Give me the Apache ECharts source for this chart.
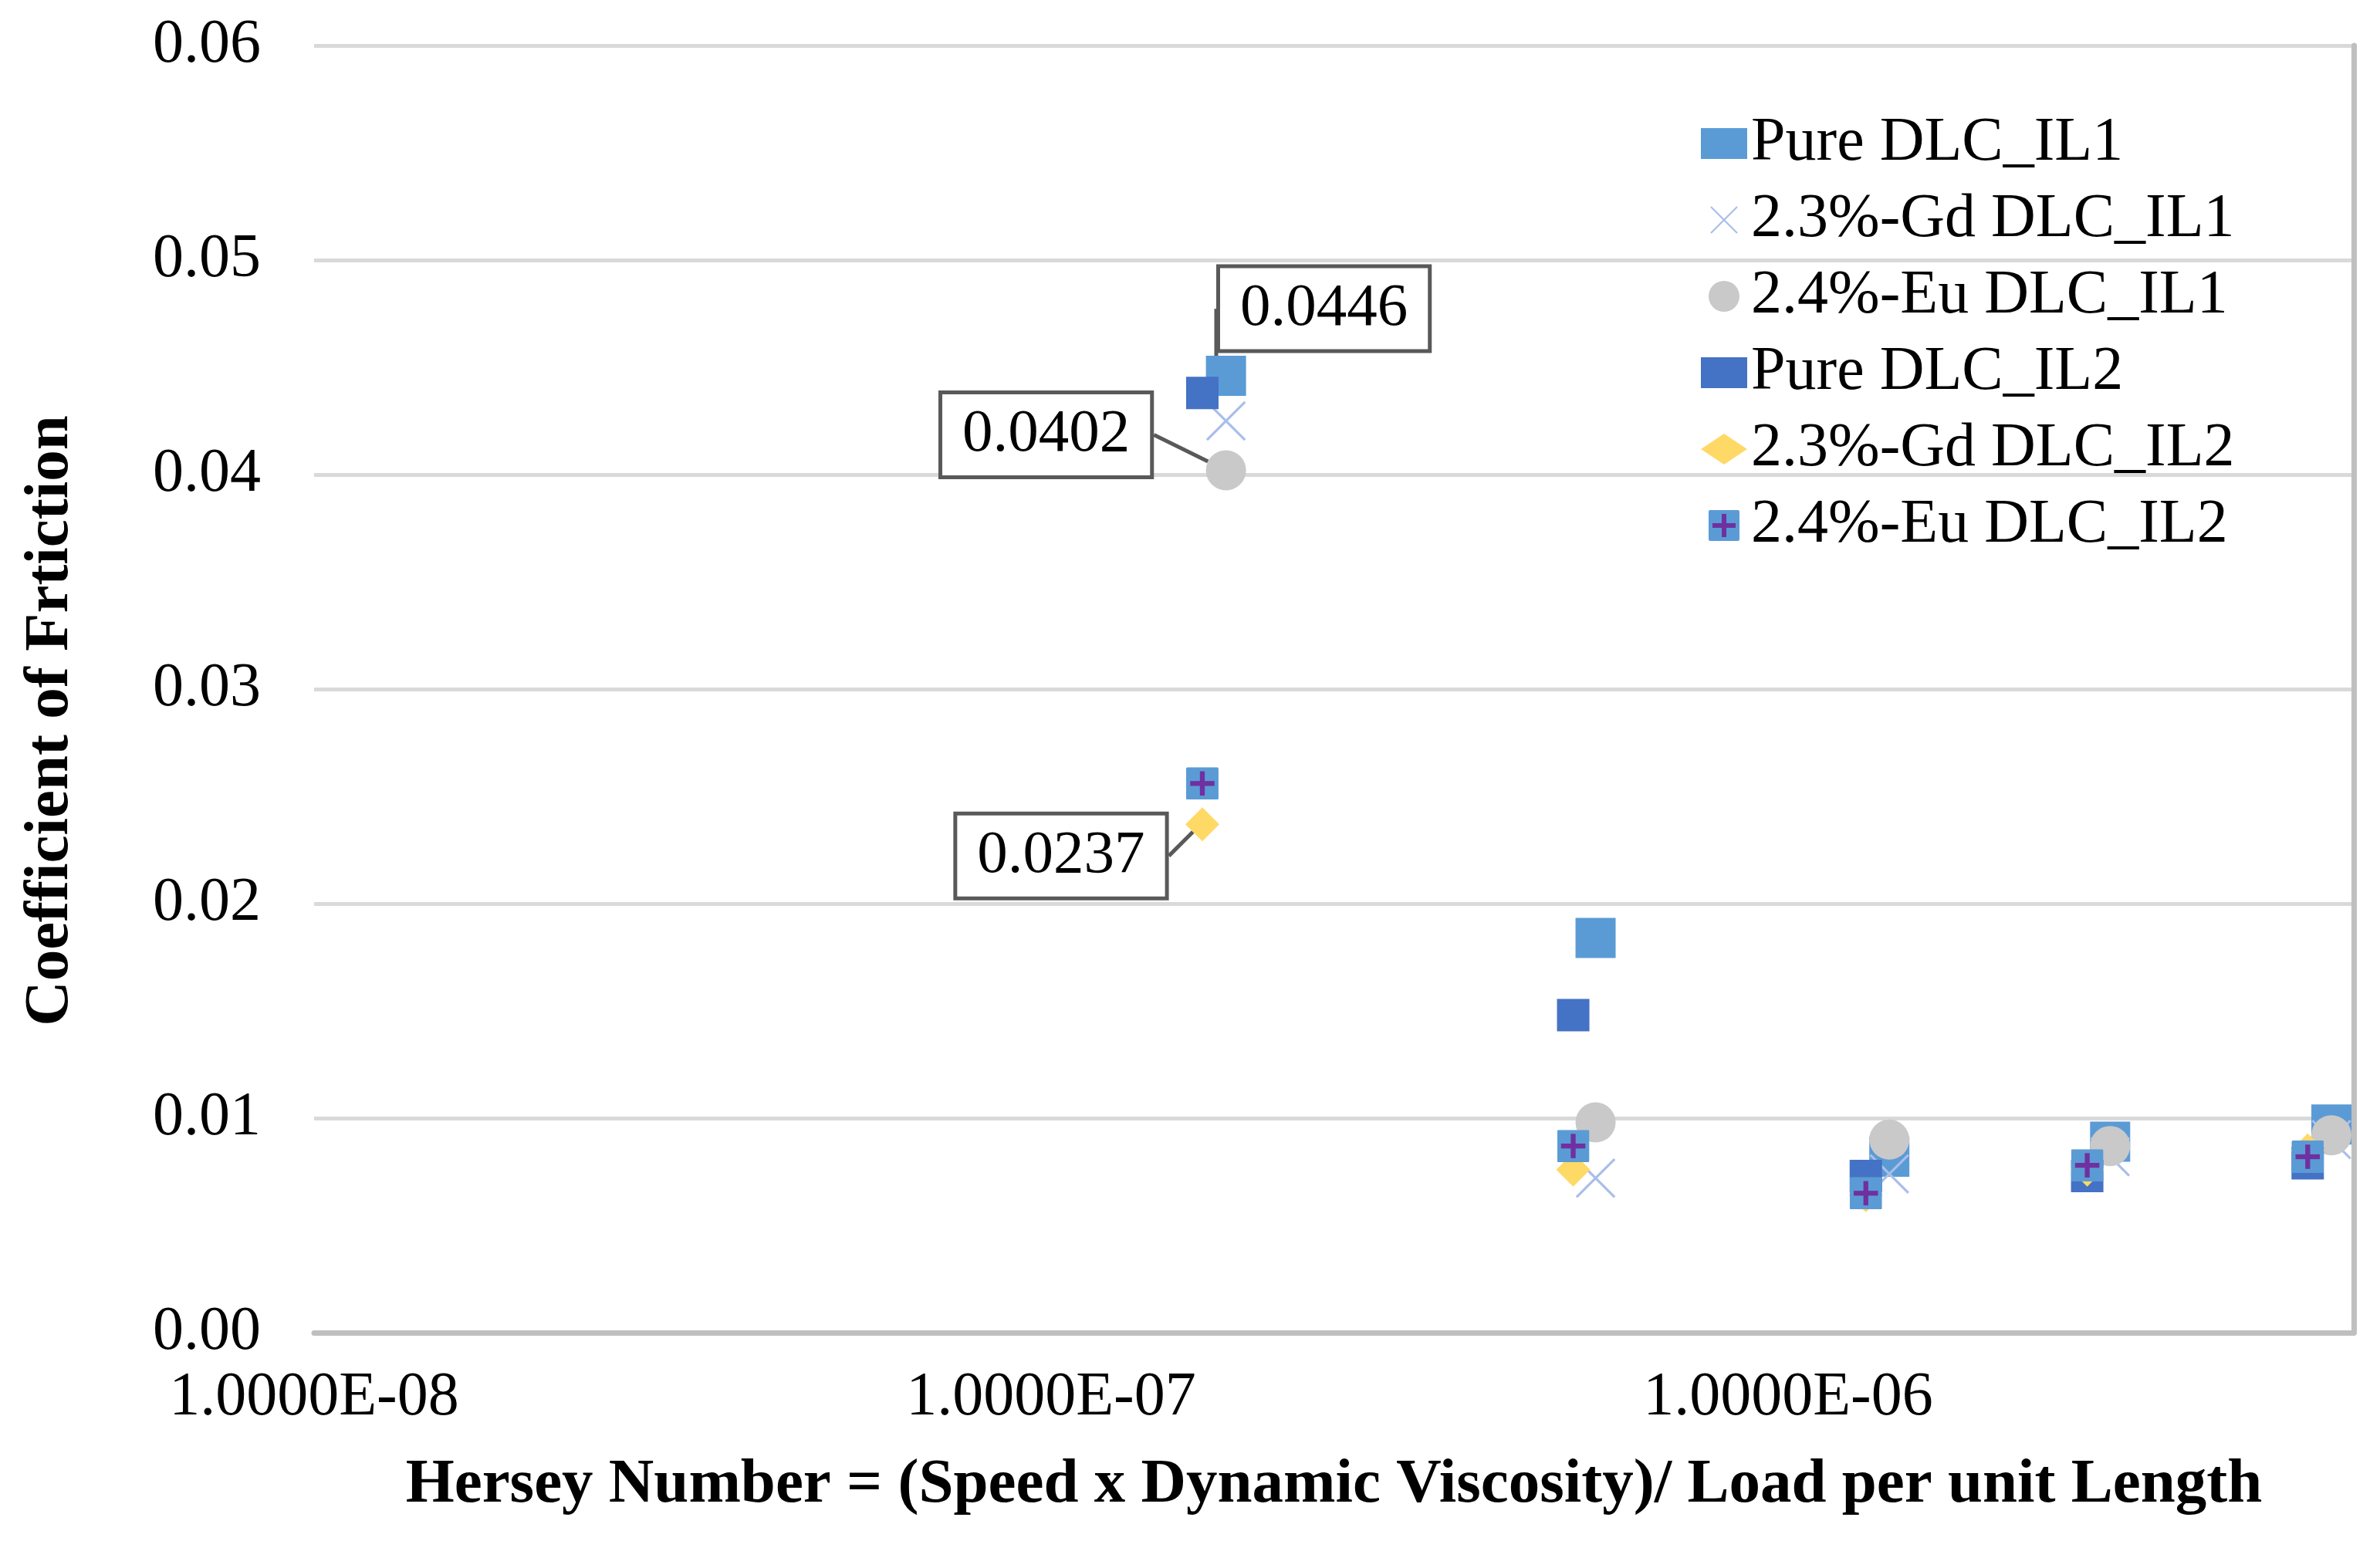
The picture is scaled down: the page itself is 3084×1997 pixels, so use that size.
<!DOCTYPE html>
<html>
<head>
<meta charset="utf-8">
<script src="https://cdn.jsdelivr.net/npm/echarts@6/dist/echarts.min.js"></script>
<style>
html,body{margin:0;padding:0;background:#ffffff;}
#chart{width:3084px;height:1997px;}
</style>
</head>
<body>
<div id="chart"></div>
<script>
// ---- data ----
const seriesNames = ['Pure DLC_IL1', '2.3%-Gd DLC_IL1', '2.4%-Eu DLC_IL1', 'Pure DLC_IL2', '2.3%-Gd DLC_IL2', '2.4%-Eu DLC_IL2'];
const hersey_IL1 = [1.727e-7, 5.48e-7, 1.372e-6, 2.735e-6, 5.46e-6];
const hersey_IL2 = [1.604e-7, 5.11e-7, 1.275e-6, 2.546e-6, 5.07e-6];
const pure_IL1 = [0.0446, 0.0184, 0.0082, 0.0089, 0.0097];
const gd_IL1   = [0.0425, 0.0072, 0.0074, 0.0082, 0.0090];
const eu_IL1   = [0.0402, 0.0098, 0.0090, 0.0087, 0.0092];
const pure_IL2 = [0.0438, 0.0148, 0.0073, 0.0073, 0.0079];
const gd_IL2   = [0.0237, 0.0076, 0.0064, 0.0076, 0.0085];
const eu_IL2   = [0.0256, 0.0087, 0.0065, 0.0078, 0.0082];
const xTickLabels = {'-8': '1.0000E-08', '-7': '1.0000E-07', '-6': '1.0000E-06'};
const yTickLabels = ['0.00', '0.01', '0.02', '0.03', '0.04', '0.05', '0.06'];

// ---- styling ----
const FONT = '"Liberation Serif", "Times New Roman", serif';
function svgIcon(svg) { return 'image://data:image/svg+xml;utf8,' + encodeURIComponent(svg); }
const plusIcon = svgIcon('<svg xmlns="http://www.w3.org/2000/svg" width="40" height="40" viewBox="0 0 40 40"><rect x="0" y="0" width="40" height="40" rx="2" fill="#5B9BD5"/><rect x="17" y="5" width="6" height="30" fill="#7030A0"/><rect x="5" y="17" width="30" height="6" fill="#7030A0"/></svg>');
const crossIcon = svgIcon('<svg xmlns="http://www.w3.org/2000/svg" width="40" height="40" viewBox="0 0 40 40"><path d="M3 3 L37 37 M37 3 L3 37" stroke="#A9BEEA" stroke-width="2.2" fill="none"/></svg>');

const styles = [
  {symbol: 'rect', size: 52, color: '#5B9BD5'},
  {symbol: crossIcon, size: 58, color: '#A9BEEA'},
  {symbol: 'circle', size: 52, color: '#C9C9C9'},
  {symbol: 'rect', size: 42, color: '#4472C4'},
  {symbol: 'diamond', size: 44, color: '#FFD966'},
  {symbol: plusIcon, size: 42, color: '#5B9BD5'}
];
// callouts: series index -> {data index, label offset}
const callouts = {0: {idx: 0, dx: 127, dy: -87}, 2: {idx: 0, dx: -233, dy: -46}, 4: {idx: 0, dx: -183, dy: 41}};

const yValues = [pure_IL1, gd_IL1, eu_IL1, pure_IL2, gd_IL2, eu_IL2];
const xValues = [hersey_IL1, hersey_IL1, hersey_IL1, hersey_IL2, hersey_IL2, hersey_IL2];

const series = seriesNames.map(function (name, s) {
  const st = styles[s];
  const co = callouts[s];
  const data = yValues[s].map(function (y, i) {
    const item = {value: [xValues[s][i], y]};
    if (co && co.idx === i) item.label = {show: true};
    return item;
  });
  return {
    name: name,
    type: 'scatter',
    symbol: st.symbol,
    symbolSize: st.size,
    symbolKeepAspect: true,
    itemStyle: {color: st.color, opacity: 1},
    data: data,
    label: {
      show: false,
      position: 'inside',
      formatter: function (p) { return p.value[1].toFixed(4); },
      fontFamily: FONT,
      fontSize: 79,
      color: '#000000',
      backgroundColor: '#ffffff',
      borderColor: '#595959',
      borderWidth: 5,
      padding: [15, 26, 11, 26]
    },
    labelLine: {show: true, lineStyle: {color: '#595959', width: 5}},
    labelLayout: function (params) {
      if (co && params.dataIndex === co.idx) return {dx: co.dx, dy: co.dy};
      return {};
    },
    emphasis: {disabled: true},
    z: 2
  };
});

const chart = echarts.init(document.getElementById('chart'), null, {renderer: 'canvas'});
chart.setOption({
  backgroundColor: '#ffffff',
  animation: false,
  textStyle: {fontFamily: FONT},
  grid: {left: 407, right: 34, top: 59, bottom: 270, containLabel: false},
  legend: {
    orient: 'vertical',
    left: 2199,
    top: 141,
    itemWidth: 60,
    itemHeight: 40,
    itemGap: 19,
    selectedMode: false,
    textStyle: {fontFamily: FONT, fontSize: 80, color: '#000000', lineHeight: 80},
    data: seriesNames
  },
  xAxis: {
    type: 'log',
    logBase: 10,
    min: 1e-8,
    max: 5.855e-6,
    name: 'Hersey Number = (Speed x Dynamic Viscosity)/ Load per unit Length',
    nameLocation: 'middle',
    nameGap: 158,
    nameTextStyle: {fontFamily: FONT, fontSize: 81, fontWeight: 'bold', color: '#000000'},
    axisLine: {show: true, onZero: false, lineStyle: {color: '#BFBFBF', width: 7}},
    axisTick: {show: false},
    splitLine: {show: false},
    axisLabel: {
      showMaxLabel: false,
      margin: 45,
      fontFamily: FONT,
      fontSize: 80,
      color: '#000000',
      formatter: function (v) {
        const e = Math.log10(v);
        const r = Math.round(e);
        if (Math.abs(e - r) > 1e-6) return '';
        return xTickLabels[String(r)] || '';
      }
    }
  },
  yAxis: [{
    type: 'value',
    min: 0,
    max: 0.06,
    interval: 0.01,
    name: 'Coefficient of Frtiction',
    nameLocation: 'middle',
    nameGap: 300,
    nameRotate: 90,
    nameTextStyle: {fontFamily: FONT, fontSize: 81, fontWeight: 'bold', color: '#000000', padding: [0, 82, 0, 0]},
    axisLine: {show: false},
    axisTick: {show: false},
    splitLine: {show: true, lineStyle: {color: '#D9D9D9', width: 5}},
    axisLabel: {
      margin: 69,
      fontFamily: FONT,
      fontSize: 80,
      color: '#000000',
      formatter: function (v) { return yTickLabels[Math.round(v * 100)]; }
    }
  }, {
    type: 'value',
    position: 'right',
    min: 0,
    max: 0.06,
    interval: 0.01,
    axisLine: {show: true, lineStyle: {color: '#BFBFBF', width: 7}},
    axisTick: {show: false},
    axisLabel: {show: false},
    splitLine: {show: false}
  }],
  series: series
});
</script>
</body>
</html>
